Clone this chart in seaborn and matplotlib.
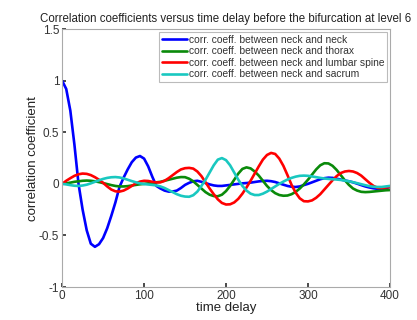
import numpy as np
import pandas as pd
import matplotlib
matplotlib.use("Agg")
import matplotlib.pyplot as plt
import seaborn as sns

# time delay samples (every 5 units from 0 to 400)
time_delay = list(range(0, 401, 5))

neck_neck = [
    1.0, 0.92, 0.71, 0.38, 0.0, -0.25, -0.45, -0.58, -0.61, -0.585,
    -0.525, -0.43, -0.31, -0.18, -0.03, 0.06, 0.14, 0.21, 0.255, 0.27,
    0.245, 0.17, 0.07, -0.02, -0.045, -0.065, -0.075, -0.074, -0.065, -0.04,
    -0.01, 0.01, 0.025, 0.03, 0.02, 0.008, -0.005, -0.015, -0.02, -0.02,
    -0.015, -0.01, -0.005, 0.0, 0.005, 0.008, 0.012, 0.018, 0.024, 0.028,
    0.03, 0.026, 0.018, 0.005, -0.008, -0.02, -0.028, -0.03, -0.025, -0.012,
    0.0, 0.015, 0.03, 0.045, 0.055, 0.06, 0.058, 0.05, 0.042, 0.033,
    0.025, 0.015, 0.002, -0.012, -0.025, -0.035, -0.043, -0.048, -0.05, -0.042,
    -0.03]

neck_thorax = [
    0.0, 0.005, 0.012, 0.02, 0.025, 0.03, 0.032, 0.03, 0.025, 0.017,
    0.008, -0.002, -0.012, -0.02, -0.025, -0.025, -0.022, -0.016, -0.01, -0.004,
    0.0, 0.005, 0.01, 0.015, 0.02, 0.03, 0.04, 0.05, 0.06, 0.066,
    0.065, 0.05, 0.025, -0.01, -0.045, -0.08, -0.105, -0.118, -0.12, -0.105,
    -0.07, -0.02, 0.04, 0.1, 0.145, 0.16, 0.15, 0.12, 0.08, 0.03,
    -0.02, -0.06, -0.09, -0.108, -0.115, -0.113, -0.10, -0.078, -0.045, -0.005,
    0.04, 0.09, 0.14, 0.18, 0.2, 0.198, 0.175, 0.135, 0.085, 0.035,
    -0.01, -0.045, -0.065, -0.077, -0.08, -0.078, -0.074, -0.07, -0.066, -0.062,
    -0.06]

neck_lumbar = [
    0.0, 0.03, 0.055, 0.078, 0.093, 0.10, 0.097, 0.085, 0.065, 0.04,
    0.01, -0.025, -0.055, -0.072, -0.075, -0.065, -0.045, -0.02, 0.005, 0.022,
    0.03, 0.028, 0.02, 0.014, 0.015, 0.03, 0.055, 0.085, 0.115, 0.14,
    0.152, 0.155, 0.148, 0.12, 0.075, 0.015, -0.045, -0.10, -0.15, -0.185,
    -0.2, -0.198, -0.18, -0.145, -0.095, -0.035, 0.03, 0.10, 0.17, 0.235,
    0.28, 0.30, 0.29, 0.245, 0.175, 0.085, -0.01, -0.085, -0.14, -0.168,
    -0.17, -0.16, -0.135, -0.10, -0.055, -0.01, 0.035, 0.075, 0.105, 0.12,
    0.125, 0.12, 0.105, 0.08, 0.045, 0.01, -0.02, -0.038, -0.04, -0.035,
    -0.03]

neck_sacrum = [
    0.0, -0.005, -0.012, -0.018, -0.02, -0.016, -0.008, 0.005, 0.02, 0.035,
    0.048, 0.058, 0.064, 0.066, 0.062, 0.053, 0.04, 0.027, 0.015, 0.005,
    -0.002, -0.006, -0.01, -0.015, -0.025, -0.04, -0.06, -0.08, -0.1, -0.115,
    -0.123, -0.125, -0.11, -0.075, -0.02, 0.04, 0.11, 0.18, 0.235, 0.25,
    0.23, 0.18, 0.11, 0.04, -0.02, -0.065, -0.095, -0.108, -0.108, -0.095,
    -0.075, -0.05, -0.025, 0.0, 0.022, 0.042, 0.058, 0.07, 0.078, 0.08,
    0.078, 0.072, 0.065, 0.058, 0.052, 0.048, 0.045, 0.042, 0.038, 0.032,
    0.025, 0.016, 0.007, -0.003, -0.013, -0.022, -0.028, -0.03, -0.03, -0.025,
    -0.02]

labels = ["corr. coeff. between neck and neck",
          "corr. coeff. between neck and thorax",
          "corr. coeff. between neck and lumbar spine",
          "corr. coeff. between neck and sacrum"]
colors = ["#0000ff", "#0a8a0a", "#ff0000", "#19c8c0"]

frames = []
for lab, vals in zip(labels, [neck_neck, neck_thorax, neck_lumbar, neck_sacrum]):
    frames.append(pd.DataFrame({"t": time_delay, "v": vals, "series": lab}))
df = pd.concat(frames, ignore_index=True)

sns.set_theme(style="ticks")
plt.rcParams["font.family"] = ["Liberation Sans", "DejaVu Sans"]
plt.rcParams["lines.solid_joinstyle"] = "round"
plt.rcParams["lines.solid_capstyle"] = "round"

fig = plt.figure(figsize=(4.17, 3.2), dpi=100)
ax = fig.add_axes([0.149, 0.103, 0.786, 0.806])
sns.lineplot(data=df, x="t", y="v", hue="series", palette=colors,
             hue_order=labels, linewidth=1.9, ax=ax, sort=False)

ax.set_xlim(0, 400)
ax.set_ylim(-1, 1.5)
ax.set_xticks([0, 100, 200, 300, 400])
ax.set_yticks([-1, -0.5, 0, 0.5, 1, 1.5])
ax.set_yticklabels(["-1", "-0.5", "0", "0.5", "1", "1.5"])
ax.tick_params(direction="in", length=3, labelsize=8.5, colors="#333333", pad=2)
for s in ax.spines.values():
    s.set_visible(True)
    s.set_color("#aaaaaa")
    s.set_linewidth(0.8)
ax.set_xlabel("time delay", fontsize=9.5, labelpad=0, color="#222222")
ax.set_ylabel("correlation coefficient", fontsize=9.5, labelpad=0, color="#222222")
ax.set_title("Correlation coefficients versus time delay before the bifurcation at level 6",
             fontsize=8.3, pad=5, color="#222222")
leg = ax.legend(loc="upper right", fontsize=7.4, frameon=True, fancybox=False,
                edgecolor="#aaaaaa", handlelength=2.4, handletextpad=0.2,
                labelspacing=0.15, borderpad=0.25, borderaxespad=0.3)
leg.get_frame().set_linewidth(0.8)
for txt in leg.get_texts():
    txt.set_color("#333333")
fig.savefig("out.png", dpi=100)
